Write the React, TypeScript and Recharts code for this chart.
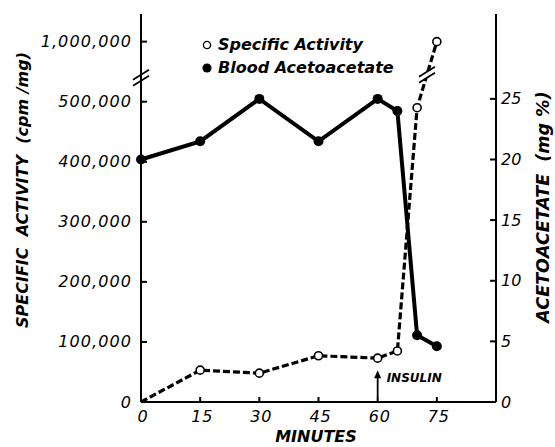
import { ComposedChart, Line, XAxis, YAxis, Legend, ReferenceDot } from 'recharts';

const minutes = [0, 15, 30, 45, 60, 65, 70, 75];
const specificActivity = [0, 53000, 48000, 77000, 73000, 85000, 490000, 1000000];
const acetoacetate = [20, 21.5, 25, 21.5, 25, 24, 5.5, 4.6];

const minuteTicks = [0, 15, 30, 45, 60, 75];
const activityTicks = [0, 100000, 200000, 300000, 400000, 500000, 1000000];
const acetoTicks = [0, 5, 10, 15, 20, 25];

// left axis is broken between 500,000 and 1,000,000
const BREAK_FROM = 500000;
const BREAK_GAP = 400000;
const toPlot = (v: number) => (v <= BREAK_FROM ? v : v - BREAK_GAP);
const fromPlot = (v: number) => (v <= BREAK_FROM ? v : v + BREAK_GAP);

const data = minutes.map((t, i) => ({
  t,
  activity: toPlot(specificActivity[i]),
  aceto: acetoacetate[i],
}));

const n = minutes.length;
const lineBreak = {
  x: (minutes[n - 2] + minutes[n - 1]) / 2,
  y: (toPlot(specificActivity[n - 2]) + toPlot(specificActivity[n - 1])) / 2,
};

const FONT = "'DejaVu Sans', sans-serif";

const LeftTick = ({ x, y, payload }: any) => (
  <g>
    <line x1={x} y1={y} x2={x + 6} y2={y} stroke="#000" strokeWidth={2} />
    <text x={x - 9} y={y} textAnchor="end" dominantBaseline="central" fontFamily={FONT}
      fontStyle="italic" fontSize={16} letterSpacing={1.1} fill="#000">
      {fromPlot(payload.value).toLocaleString('en-US')}
    </text>
  </g>
);

const RightTick = ({ x, y, payload }: any) => (
  <g>
    <line x1={x - 6} y1={y} x2={x} y2={y} stroke="#000" strokeWidth={2} />
    <text x={x + 5} y={y} textAnchor="start" dominantBaseline="central" fontFamily={FONT}
      fontStyle="italic" fontSize={16} fill="#000">
      {payload.value}
    </text>
  </g>
);

const BottomTick = ({ x, y, payload }: any) => (
  <g>
    <line x1={x} y1={y} x2={x} y2={y - 5} stroke="#000" strokeWidth={2} />
    <text x={x + 2} y={y + 14} textAnchor="middle" dominantBaseline="central" fontFamily={FONT}
      fontStyle="italic" fontSize={16} letterSpacing={0.8} fill="#000">
      {payload.value}
    </text>
  </g>
);

const OpenDot = (props: any) => {
  const { cx, cy, index } = props;
  if (index === 0) return <g key={`o${index}`} />;
  return <circle key={`o${index}`} cx={cx} cy={cy} r={4} fill="#fff" stroke="#000" strokeWidth={1.6} />;
};

const FilledDot = (props: any) => {
  const { cx, cy, index } = props;
  return <circle key={`f${index}`} cx={cx} cy={cy} r={5} fill="#000" />;
};

const BreakMark = ({ cx, cy, mask }: any) => (
  <g>
    {mask && <polygon points={`${cx - 9},${cy + 9} ${cx + 9},${cy - 3} ${cx + 9},${cy - 9} ${cx - 9},${cy + 3}`} fill="#fff" />}
    <line x1={cx - 8} y1={cy + 8} x2={cx + 8} y2={cy - 2} stroke="#000" strokeWidth={1.8} />
    <line x1={cx - 8} y1={cy + 2} x2={cx + 8} y2={cy - 8} stroke="#000" strokeWidth={1.8} />
  </g>
);

const InsulinArrow = ({ cx, cy }: any) => (
  <g>
    <line x1={cx} y1={cy} x2={cx} y2={cy - 22} stroke="#000" strokeWidth={1.8} />
    <polygon points={`${cx - 3.5},${cy - 19} ${cx + 3.5},${cy - 19} ${cx},${cy - 27}`} fill="#000" />
    <text x={cx + 9} y={cy - 19} fontFamily={FONT} fontStyle="italic" fontWeight="bold" fontSize={12} fill="#000"
      dominantBaseline="central">
      INSULIN
    </text>
  </g>
);

const LegendBox = () => (
  <div style={{ fontFamily: FONT, fontStyle: 'italic', fontWeight: 'bold', fontSize: 16, lineHeight: '23px', color: '#000' }}>
    <div style={{ display: 'flex', alignItems: 'center' }}>
      <svg width={12} height={12} style={{ marginRight: 5 }}>
        <circle cx={6} cy={6} r={3.6} fill="#fff" stroke="#000" strokeWidth={1.4} />
      </svg>
      Specific Activity
    </div>
    <div style={{ display: 'flex', alignItems: 'center' }}>
      <svg width={12} height={12} style={{ marginRight: 5 }}>
        <circle cx={6} cy={6} r={4.6} fill="#000" />
      </svg>
      Blood Acetoacetate
    </div>
  </div>
);

const LeftTitle = () => (
  <text x={22} y={190} transform="rotate(-90 22 190)" textAnchor="middle" dominantBaseline="central"
    fontFamily={FONT} fontStyle="italic" fontWeight="bold" fontSize={16} fill="#000">
    {'SPECIFIC\u00a0\u00a0ACTIVITY\u00a0\u00a0(cpm\u00a0/mg)'}
  </text>
);

const RightTitle = () => (
  <text x={543} y={207} transform="rotate(-90 543 207)" textAnchor="middle" dominantBaseline="central"
    fontFamily={FONT} fontStyle="italic" fontWeight="bold" fontSize={17.5} fill="#000">
    {'ACETOACETATE\u00a0\u00a0(mg\u00a0%)'}
  </text>
);

const BottomTitle = () => (
  <text x={316} y={436} textAnchor="middle" dominantBaseline="central"
    fontFamily={FONT} fontStyle="italic" fontWeight="bold" fontSize={16} fill="#000">
    MINUTES
  </text>
);

export default function App() {
  return (
    <div style={{ position: 'absolute', left: 0, top: 0, width: 555, height: 447, background: '#fff' }}>
      <ComposedChart width={555} height={447} data={data} margin={{ top: 14, right: 0, bottom: 0, left: 0 }}>
        <XAxis dataKey="t" type="number" domain={[0, 90]} ticks={minuteTicks} height={45}
          axisLine={{ stroke: '#000', strokeWidth: 2 }} tickLine={false} tickSize={0} tickMargin={0}
          tick={<BottomTick />} label={<BottomTitle />} />
        <YAxis yAxisId="left" orientation="left" width={141} domain={[0, 646000]}
          ticks={activityTicks.map(toPlot)} axisLine={{ stroke: '#000', strokeWidth: 2 }}
          tickLine={false} tickSize={0} tickMargin={0} tick={<LeftTick />} label={<LeftTitle />} />
        <YAxis yAxisId="right" orientation="right" width={59} domain={[0, 32]} ticks={acetoTicks}
          axisLine={{ stroke: '#000', strokeWidth: 2 }} tickLine={false} tickSize={0} tickMargin={0}
          tick={<RightTick />} label={<RightTitle />} />
        <Legend verticalAlign="middle" align="center" content={<LegendBox />}
          wrapperStyle={{ position: 'absolute', left: 201, top: 33, width: 220 }} />
        <Line yAxisId="left" dataKey="activity" type="linear" stroke="#000" strokeWidth={3.2}
          strokeDasharray="7 3" dot={OpenDot} isAnimationActive={false} />
        <Line yAxisId="right" dataKey="aceto" type="linear" stroke="#000" strokeWidth={4}
          dot={FilledDot} isAnimationActive={false} />
        <ReferenceDot yAxisId="left" x={lineBreak.x} y={lineBreak.y} ifOverflow="visible"
          shape={(p: any) => <BreakMark {...p} mask />} />
        <ReferenceDot yAxisId="left" x={0} y={540000} ifOverflow="visible"
          shape={(p: any) => <BreakMark {...p} />} />
        <ReferenceDot yAxisId="left" x={60} y={8000} ifOverflow="visible"
          shape={(p: any) => <InsulinArrow {...p} />} />
      </ComposedChart>
    </div>
  );
}
